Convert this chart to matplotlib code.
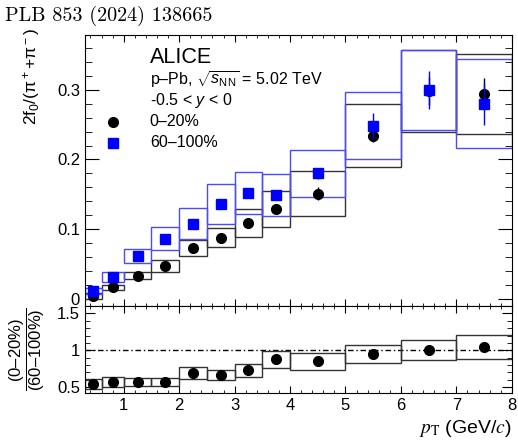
import matplotlib
matplotlib.use("Agg")
import matplotlib.pyplot as plt
from matplotlib.patches import Rectangle
from matplotlib.ticker import MultipleLocator

plt.rcParams['font.family'] = ['Liberation Sans', 'DejaVu Sans']
plt.rcParams['mathtext.fontset'] = 'custom'
plt.rcParams['mathtext.rm'] = 'Liberation Sans'
plt.rcParams['mathtext.it'] = 'Liberation Sans:italic'
plt.rcParams['mathtext.sf'] = 'Liberation Sans'

# pT bins
pt_lo = [0.3, 0.6, 1.0, 1.5, 2.0, 2.5, 3.0, 3.5, 4.0, 5.0, 6.0, 7.0]
pt_hi = [0.6, 1.0, 1.5, 2.0, 2.5, 3.0, 3.5, 4.0, 5.0, 6.0, 7.0, 8.0]
pt = [0.45, 0.8, 1.25, 1.75, 2.25, 2.75, 3.25, 3.75, 4.5, 5.5, 6.5, 7.5]

# 0-20 %
c0_val = [0.005, 0.0175, 0.034, 0.048, 0.073, 0.088, 0.109, 0.129, 0.151, 0.234, 0.298, 0.294]
c0_stat = [0.001, 0.001, 0.002, 0.002, 0.003, 0.004, 0.006, 0.006, 0.009, 0.009, 0.02, 0.022]
c0_sys = [0.0045, 0.0036, 0.0055, 0.0085, 0.0115, 0.0135, 0.0195, 0.026, 0.0325, 0.045, 0.058, 0.057]

# 60-100 %
c1_val = [0.012, 0.032, 0.062, 0.087, 0.108, 0.136, 0.152, 0.149, 0.180, 0.248, 0.299, 0.280]
c1_stat = [0.001, 0.002, 0.002, 0.003, 0.003, 0.004, 0.006, 0.005, 0.008, 0.019, 0.027, 0.03]
c1_sys = [0.004, 0.0065, 0.010, 0.017, 0.022, 0.0285, 0.030, 0.030, 0.034, 0.048, 0.057, 0.064]

# ratio (0-20%)/(60-100%)
r_val = [0.54, 0.57, 0.57, 0.57, 0.69, 0.665, 0.73, 0.875, 0.85, 0.95, 1.005, 1.045]
r_stat = [0.01, 0.01, 0.01, 0.01, 0.015, 0.015, 0.03, 0.02, 0.02, 0.04, 0.05, 0.07]
r_sys = [0.065, 0.067, 0.06, 0.06, 0.076, 0.072, 0.087, 0.118, 0.112, 0.119, 0.136, 0.163]

blue = '#0000ff'
box_blue = '#4a4aff'

fig = plt.figure(figsize=(5.18, 4.47), dpi=100)
ax1 = fig.add_axes([0.164, 0.3154, 0.824, 0.6063])
ax2 = fig.add_axes([0.164, 0.1208, 0.824, 0.1946], sharex=ax1)


def sys_boxes(ax, val, sys, col, lw=1.0):
    for lo, hi, v, s in zip(pt_lo, pt_hi, val, sys):
        ax.add_patch(Rectangle((lo, v - s), hi - lo, 2 * s, fill=False,
                               edgecolor=col, lw=lw, zorder=2))


sys_boxes(ax1, c0_val, c0_sys, '#333333')
sys_boxes(ax1, c1_val, c1_sys, box_blue)
ax1.errorbar(pt, c0_val, yerr=c0_stat, fmt='o', color='black', ms=7, elinewidth=1, capsize=0, zorder=4)
ax1.errorbar(pt, c1_val, yerr=c1_stat, fmt='s', color=blue, ms=6.5, elinewidth=1, capsize=0, zorder=5)

ax1.set_xlim(0.3, 8)
ax1.set_ylim(-0.0095, 0.378)
ax1.yaxis.set_minor_locator(MultipleLocator(0.02))
ax1.set_yticks([0, 0.1, 0.2, 0.3])
ax1.set_yticklabels(['0', '0.1', '0.2', '0.3'])
ax1.xaxis.set_major_locator(MultipleLocator(1))
ax1.xaxis.set_minor_locator(MultipleLocator(0.2))
ax1.tick_params(axis='both', which='both', direction='in', top=True, right=True, labelsize=12)
ax1.tick_params(axis='y', which='major', length=10)
ax1.tick_params(axis='y', which='minor', length=5)
ax1.tick_params(axis='x', which='major', length=5)
ax1.tick_params(axis='x', which='minor', length=2.5)
ax1.tick_params(axis='x', labelbottom=False)
ax1.set_ylabel('2f$_0$/(π$^+$+π$^-$)', fontsize=12.5, loc='top')
ax1.yaxis.set_label_coords(-0.1, 1.025)

# legend / labels
ax1.text(0.152, 0.918, 'ALICE', transform=ax1.transAxes, fontsize=15.5, va='center')
ax1.text(0.152, 0.835, r'p–Pb, $\sqrt{s_{\rm NN}}$ = 5.02 TeV', transform=ax1.transAxes, fontsize=11.5, va='center')
ax1.text(0.152, 0.76, r'-0.5 < $y$ < 0', transform=ax1.transAxes, fontsize=11.5, va='center')
ax1.text(0.152, 0.68, '0–20%', transform=ax1.transAxes, fontsize=11.5, va='center')
ax1.text(0.152, 0.603, '60–100%', transform=ax1.transAxes, fontsize=11.5, va='center')
ax1.plot([0.066], [0.68], 'o', color='black', ms=7, transform=ax1.transAxes)
ax1.plot([0.066], [0.603], 's', color=blue, ms=6.5, transform=ax1.transAxes)

# ratio panel
sys_boxes(ax2, r_val, r_sys, '#333333')
ax2.errorbar(pt, r_val, yerr=r_stat, fmt='o', color='black', ms=7, elinewidth=1, capsize=0, zorder=4)
ax2.axhline(1.0, color='black', lw=1, ls=(0, (4, 2, 1, 2)), zorder=1)
ax2.set_ylim(0.42, 1.6)
ax2.set_yticks([0.5, 1, 1.5])
ax2.set_yticklabels(['0.5', '1', '1.5'])
ax2.yaxis.set_minor_locator(MultipleLocator(0.1))
ax2.set_xticks(range(1, 9))
ax2.set_xticklabels([str(i) for i in range(1, 9)])
ax2.tick_params(axis='both', which='both', direction='in', top=True, right=True, labelsize=12)
ax2.tick_params(axis='y', which='major', length=7)
ax2.tick_params(axis='y', which='minor', length=3.5)
ax2.tick_params(axis='x', which='major', length=5)
ax2.tick_params(axis='x', which='minor', length=2.5)
ax2.set_xlim(0.3, 8)
ax2.set_ylabel(r'$\dfrac{(0–20\%)}{(60–100\%)}$', fontsize=12)
ax2.yaxis.set_label_coords(-0.088, 0.5)
ax2.set_xlabel(r'$p_{\mathrm{T}}$ (GeV/$c$)', fontsize=14, loc='right', math_fontfamily='stix')

fig.text(0.01, 0.965, 'PLB 853 (2024) 138665', fontfamily='cmr10', fontsize=14.5, va='center')

fig.savefig('out.png', dpi=100)
